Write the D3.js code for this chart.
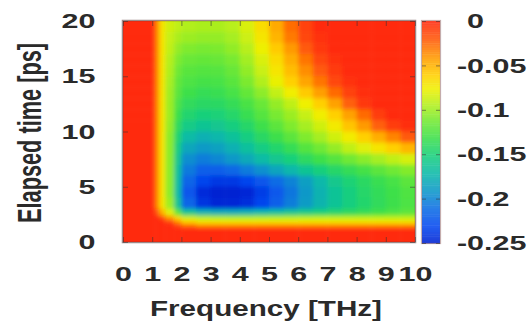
<!DOCTYPE html>
<html>
<head>
<meta charset="utf-8">
<script src="https://cdn.jsdelivr.net/npm/d3@7/dist/d3.min.js"></script>
<style>
  body { margin: 0; background: #fff; }
  svg { display: block; }
  text { font-family: "Liberation Sans", Arial, sans-serif; font-weight: bold; fill: #2a2a2a; }
</style>
</head>
<body>
<svg id="chart" width="531" height="324"></svg>
<script>
// frequency bands [THz] (edges)
const freqEdges = [0, 1.1, 1.25, 1.45, 1.75, 2, 2.5, 3, 3.5, 4, 4.5, 5, 5.5, 6, 6.5, 7, 7.5, 8, 8.5, 9, 9.5, 10];
// elapsed time bands [ps] (edges), from the top row (20 ps) down to 0 ps
const timeEdges = [20, 19, 18, 17, 16, 15, 14, 13, 12, 11, 10, 9, 8, 7, 6, 5, 4, 3, 2.4, 2.0, 1.65, 1.3, 0];
// one row per time band, one value per frequency band
const values = [
  [0, -0.035, -0.07, -0.085, -0.09, -0.094, -0.096, -0.096, -0.092, -0.082, -0.066, -0.046, -0.026, -0.01, 0, 0, 0, 0, 0, 0, 0],
  [0, -0.035, -0.07, -0.088, -0.096, -0.1, -0.102, -0.102, -0.097, -0.086, -0.07, -0.05, -0.03, -0.012, -0.003, 0, 0, 0, 0, 0, 0],
  [0, -0.035, -0.07, -0.09, -0.102, -0.108, -0.11, -0.109, -0.103, -0.092, -0.076, -0.058, -0.04, -0.02, -0.006, 0, 0, 0, 0, 0, 0],
  [0, -0.035, -0.07, -0.093, -0.108, -0.115, -0.117, -0.116, -0.11, -0.098, -0.082, -0.065, -0.047, -0.028, -0.012, -0.003, 0, 0, 0, 0, 0],
  [0, -0.035, -0.07, -0.095, -0.113, -0.121, -0.123, -0.122, -0.116, -0.103, -0.087, -0.07, -0.053, -0.036, -0.02, -0.007, 0, 0, 0, 0, 0],
  [0, -0.035, -0.07, -0.097, -0.117, -0.125, -0.128, -0.127, -0.121, -0.109, -0.094, -0.077, -0.06, -0.044, -0.028, -0.012, -0.003, 0, 0, 0, 0],
  [0, -0.035, -0.07, -0.099, -0.12, -0.13, -0.134, -0.133, -0.127, -0.117, -0.104, -0.089, -0.074, -0.058, -0.042, -0.025, -0.01, -0.002, 0, 0, 0],
  [0, -0.035, -0.07, -0.1, -0.125, -0.137, -0.141, -0.14, -0.135, -0.126, -0.115, -0.102, -0.09, -0.075, -0.06, -0.043, -0.022, -0.006, 0, 0, 0],
  [0, -0.035, -0.07, -0.1, -0.13, -0.145, -0.15, -0.149, -0.143, -0.133, -0.122, -0.11, -0.1, -0.088, -0.074, -0.06, -0.043, -0.025, -0.008, 0, 0],
  [0, -0.035, -0.07, -0.102, -0.137, -0.155, -0.161, -0.159, -0.152, -0.142, -0.131, -0.12, -0.108, -0.097, -0.085, -0.072, -0.056, -0.04, -0.022, -0.008, -0.002],
  [0, -0.035, -0.07, -0.105, -0.145, -0.169, -0.176, -0.172, -0.164, -0.153, -0.141, -0.131, -0.12, -0.108, -0.097, -0.085, -0.073, -0.06, -0.047, -0.033, -0.02],
  [0, -0.035, -0.07, -0.105, -0.152, -0.182, -0.189, -0.185, -0.176, -0.165, -0.154, -0.144, -0.134, -0.123, -0.113, -0.102, -0.09, -0.08, -0.07, -0.06, -0.05],
  [0, -0.035, -0.07, -0.105, -0.158, -0.195, -0.203, -0.198, -0.19, -0.18, -0.169, -0.159, -0.15, -0.139, -0.13, -0.122, -0.113, -0.105, -0.097, -0.09, -0.083],
  [0, -0.035, -0.07, -0.105, -0.162, -0.205, -0.218, -0.218, -0.213, -0.204, -0.194, -0.183, -0.172, -0.161, -0.151, -0.142, -0.135, -0.128, -0.12, -0.113, -0.107],
  [0, -0.035, -0.07, -0.105, -0.165, -0.215, -0.232, -0.238, -0.238, -0.232, -0.222, -0.211, -0.2, -0.186, -0.171, -0.158, -0.148, -0.14, -0.133, -0.127, -0.12],
  [0, -0.035, -0.07, -0.105, -0.167, -0.222, -0.244, -0.249, -0.249, -0.246, -0.236, -0.221, -0.206, -0.19, -0.175, -0.162, -0.152, -0.143, -0.136, -0.13, -0.124],
  [0, -0.035, -0.07, -0.1, -0.16, -0.215, -0.24, -0.247, -0.247, -0.243, -0.232, -0.218, -0.203, -0.188, -0.174, -0.162, -0.152, -0.144, -0.137, -0.131, -0.125],
  [0, -0.02, -0.05, -0.08, -0.12, -0.16, -0.175, -0.178, -0.178, -0.175, -0.17, -0.165, -0.16, -0.155, -0.15, -0.145, -0.14, -0.135, -0.13, -0.125, -0.12],
  [0, 0, -0.015, -0.04, -0.065, -0.085, -0.092, -0.094, -0.095, -0.095, -0.094, -0.093, -0.092, -0.091, -0.09, -0.09, -0.09, -0.09, -0.09, -0.09, -0.09],
  [0, 0, 0, -0.01, -0.035, -0.06, -0.07, -0.07, -0.07, -0.07, -0.07, -0.07, -0.07, -0.07, -0.07, -0.07, -0.07, -0.07, -0.07, -0.07, -0.07],
  [0, 0, 0, 0, -0.01, -0.025, -0.035, -0.035, -0.035, -0.035, -0.035, -0.035, -0.035, -0.035, -0.035, -0.035, -0.035, -0.035, -0.035, -0.035, -0.035],
  [0, 0, 0, 0, 0, 0, 0, 0, 0, 0, 0, 0, 0, 0, 0, 0, 0, 0, 0, 0, 0]
];
const freqTicks = [0, 1, 2, 3, 4, 5, 6, 7, 8, 9, 10];
const timeTicks = [0, 5, 10, 15, 20];
const cbTicks = [0, -0.05, -0.1, -0.15, -0.2, -0.25];
// palette: value -> colour
const paletteStops = [0, -0.02, -0.04, -0.06, -0.075, -0.09, -0.11, -0.13, -0.15, -0.17, -0.19, -0.21, -0.23, -0.25];
const paletteColors = ['#ff2a0c', '#ff5a08', '#ff9a00', '#ffd000', '#f0f000', '#bff018', '#78ea30', '#3ee04a',
  '#18d07a', '#0cbaa8', '#0c98c8', '#0c6ee4', '#0448f0', '#0020d0'];

const svg = d3.select('#chart');
const plotL = 123, plotR = 415, plotT = 21, plotB = 242;
const sx = 1.45; // the picture is stretched sideways

const x = d3.scaleLinear().domain([0, 10]).range([plotL, plotR]);
const y = d3.scaleLinear().domain([0, 20]).range([plotB, plotT]);
const color = d3.scaleLinear().domain(paletteStops).range(paletteColors).clamp(true);

const defs = svg.append('defs');
defs.append('clipPath').attr('id', 'plotclip')
  .append('rect').attr('x', plotL).attr('y', plotT).attr('width', plotR - plotL).attr('height', plotB - plotT);
defs.append('filter').attr('id', 'soft')
  .attr('filterUnits', 'userSpaceOnUse').attr('x', 90).attr('y', 0).attr('width', 360).attr('height', 270)
  .append('feGaussianBlur').attr('stdDeviation', 2.2);

// heat map cells
const cells = [];
values.forEach((row, i) => row.forEach((v, j) => cells.push({i, j, v})));
const nRows = values.length, nCols = freqEdges.length - 1;

svg.append('g').attr('clip-path', 'url(#plotclip)')
  .append('g').attr('filter', 'url(#soft)')
  .selectAll('rect')
  .data(cells)
  .enter()
  .append('rect')
  .attr('x', d => x(freqEdges[d.j]) - (d.j === 0 ? 8 : 0))
  .attr('y', d => y(timeEdges[d.i]) - (d.i === 0 ? 8 : 0))
  .attr('width', d => x(freqEdges[d.j + 1]) - x(freqEdges[d.j]) + (d.j === 0 || d.j === nCols - 1 ? 8 : 0) + 0.5)
  .attr('height', d => y(timeEdges[d.i + 1]) - y(timeEdges[d.i]) + (d.i === 0 || d.i === nRows - 1 ? 8 : 0) + 0.5)
  .attr('fill', d => color(d.v));

// inward ticks on all four sides
const tickStyle = g => {
  g.select('.domain').remove();
  g.selectAll('.tick line').attr('stroke', '#333').attr('stroke-opacity', 0.55);
};
svg.append('g').attr('transform', `translate(0,${plotB})`)
  .call(d3.axisBottom(x).tickValues(freqTicks).tickSize(-5).tickFormat('')).call(tickStyle);
svg.append('g').attr('transform', `translate(0,${plotT})`)
  .call(d3.axisTop(x).tickValues(freqTicks).tickSize(-5).tickFormat('')).call(tickStyle);
svg.append('g').attr('transform', `translate(${plotL},0)`)
  .call(d3.axisLeft(y).tickValues(timeTicks).tickSize(-5).tickFormat('')).call(tickStyle);
svg.append('g').attr('transform', `translate(${plotR},0)`)
  .call(d3.axisRight(y).tickValues(timeTicks).tickSize(-5).tickFormat('')).call(tickStyle);

svg.append('rect')
  .attr('x', plotL - 0.5).attr('y', plotT - 0.5)
  .attr('width', plotR - plotL + 1).attr('height', plotB - plotT + 1)
  .attr('fill', 'none').attr('stroke', '#5a3a3a').attr('stroke-opacity', 0.6).attr('stroke-width', 1.5);

// tick labels
const labelStyle = g => {
  g.select('.domain').remove();
  g.selectAll('text').attr('font-size', 21).attr('transform', `scale(${sx},1)`);
};
svg.append('g').attr('transform', `translate(0,${plotB})`)
  .call(d3.axisBottom(x).tickValues(freqTicks).tickSize(0).tickPadding(24))
  .call(labelStyle);
svg.append('g').attr('transform', `translate(${plotL},0)`)
  .call(d3.axisLeft(y).tickValues(timeTicks).tickSize(0).tickPadding(19))
  .call(labelStyle);

// axis titles
svg.append('text')
  .attr('x', 266).attr('y', 316)
  .attr('text-anchor', 'middle')
  .attr('font-size', 22)
  .attr('textLength', 232).attr('lengthAdjust', 'spacingAndGlyphs')
  .text('Frequency [THz]');
svg.append('text')
  .attr('transform', 'translate(30,133) scale(1.55,1) rotate(-90)')
  .attr('text-anchor', 'middle').attr('dy', '0.35em')
  .attr('font-size', 21)
  .attr('textLength', 180).attr('lengthAdjust', 'spacingAndGlyphs')
  .text('Elapsed time [ps]');

// colour bar
const cbLeft = 422, cbRight = 440;
const yc = d3.scaleLinear().domain([0, -0.25]).range([plotT, plotB + 1]);
const cbSteps = d3.range(0, 100).map(k => -0.25 * k / 100);
svg.append('g').attr('opacity', 0.88)
  .selectAll('rect')
  .data(cbSteps)
  .enter()
  .append('rect')
  .attr('x', cbLeft)
  .attr('y', d => yc(d))
  .attr('width', cbRight - cbLeft)
  .attr('height', d => yc(d - 0.0025) - yc(d) + 0.5)
  .attr('fill', d => color(d));
svg.append('rect')
  .attr('x', cbLeft - 0.5).attr('y', plotT - 0.5)
  .attr('width', cbRight - cbLeft + 1).attr('height', plotB - plotT + 2)
  .attr('fill', 'none').attr('stroke', '#8a5a5a').attr('stroke-opacity', 0.5).attr('stroke-width', 1.2);
svg.append('g').attr('transform', `translate(${cbLeft},0)`)
  .call(d3.axisRight(yc).tickValues(cbTicks).tickSize(4).tickFormat(''))
  .call(tickStyle);
svg.append('g').attr('transform', `translate(${cbRight},0)`)
  .call(d3.axisLeft(yc).tickValues(cbTicks).tickSize(4).tickFormat(''))
  .call(tickStyle);
svg.append('g').attr('transform', `translate(${cbRight},0)`)
  .call(d3.axisRight(yc).tickValues(cbTicks).tickSize(0).tickPadding(11.7)
    .tickFormat(d => d === 0 ? '0' : String(d)))
  .call(labelStyle)
  .call(g => g.selectAll('text').attr('dx', d => d === 0 ? '0.333em' : 0));
</script>
</body>
</html>
